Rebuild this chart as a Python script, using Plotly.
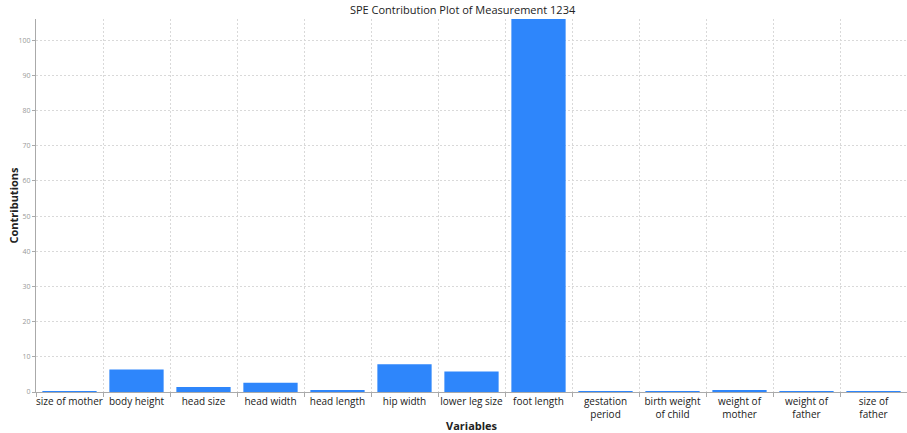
import plotly.graph_objects as go

variables = ["size of mother", "body height", "head size", "head width", "head length",
             "hip width", "lower leg size", "foot length", "gestation period",
             "birth weight of child", "weight of mother", "weight of father", "size of father"]
tick_labels = ["size of mother", "body height", "head size", "head width", "head length",
               "hip width", "lower leg size", "foot length", "gestation<br>period",
               "birth weight<br>of child", "weight of<br>mother", "weight of<br>father", "size of<br>father"]
contributions = [0.2, 6.4, 1.4, 2.6, 0.35, 7.9, 5.8, 108.0, 0.15, 0.1, 0.3, 0.1, 0.1]

fig = go.Figure(go.Bar(
    x=variables, y=contributions,
    marker=dict(color="#2e86fb", line=dict(width=0)),
))

fig.update_layout(
    width=907, height=433,
    margin=dict(l=36, r=0, t=19, b=41),
    paper_bgcolor="white", plot_bgcolor="white",
    bargap=0.19,
    showlegend=False,
    font=dict(family="Open Sans", color="#222"),
    title=dict(text="SPE Contribution Plot of Measurement 1234", x=0.51, xanchor="center",
               y=0.977, yanchor="middle", font=dict(size=11, color="#222")),
)
fig.update_xaxes(
    type="category", tickson="boundaries", automargin=False, tickangle=0,
    tickvals=variables, ticktext=tick_labels,
    tickfont=dict(size=10, color="#1a1a1a"),
    ticks="outside", ticklen=4, tickcolor="#aaa",
    showline=True, linecolor="#aaa", linewidth=1,
    showgrid=True, gridcolor="#d9d9d9", griddash="2px,2px", gridwidth=1,
    range=[-0.5, 12.5],
)
fig.update_yaxes(
    range=[0, 106], tick0=0, dtick=10, automargin=False,
    tickfont=dict(size=7, color="#999"),
    ticks="outside", ticklen=3, tickcolor="#aaa",
    showline=True, linecolor="#aaa", linewidth=1,
    showgrid=True, gridcolor="#d9d9d9", griddash="2px,2px", gridwidth=1,
    zeroline=False,
)
fig.add_annotation(text="<b>Variables</b>", x=0.5, y=0, xref="paper", yref="paper",
                   xanchor="center", yanchor="middle", yshift=-33, showarrow=False,
                   font=dict(size=11, color="#222"))
fig.add_annotation(text="<b>Contributions</b>", x=0, xref="paper", y=0.5, yref="paper",
                   xshift=-23, textangle=-90, xanchor="center", showarrow=False,
                   font=dict(size=11, color="#222"))
fig.write_html("out.html", config={"displayModeBar": False},
               post_script="document.body.style.margin='0';document.body.style.overflow='hidden';")
